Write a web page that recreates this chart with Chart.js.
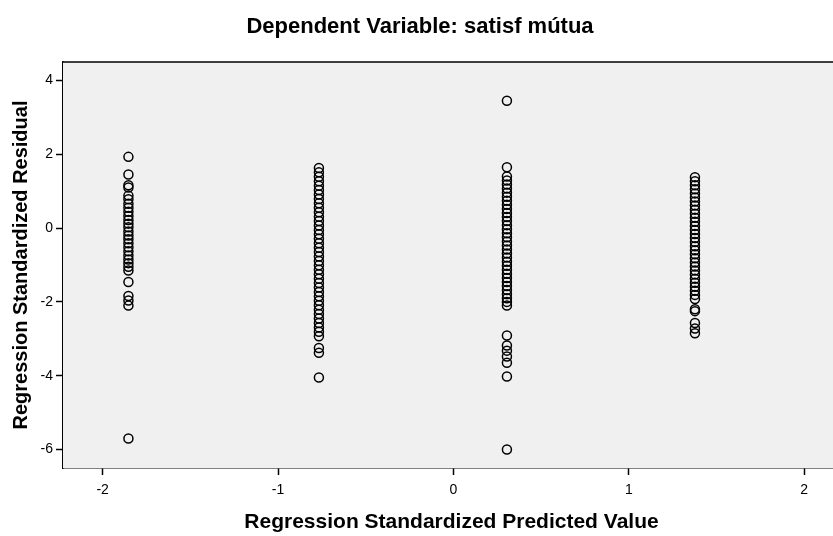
<!DOCTYPE html>
<html lang="en">
  <head>
    <meta charset="UTF-8" />
    <meta name="viewport" content="width=device-width, initial-scale=1.0" />
    <title>Dependent Variable: satisf mútua</title>
    <script src="https://cdn.jsdelivr.net/npm/chart.js@4.4.1/dist/chart.umd.min.js"></script>
    <style>
      html, body { margin: 0; padding: 0; background: #ffffff; overflow: hidden; }
      /* plot runs a little past the right edge of the window */
      #wrap { width: 844px; height: 536px; position: relative; }
    </style>
  </head>
  <body>
    <div id="wrap"><canvas id="myChart"></canvas></div>

    <script>
      // predicted value of each group (standardized)
      const predicted = [-1.853, -0.767, 0.305, 1.377];

      // standardized residuals for each predicted value group
      const residGroup1 = [1.93, 1.45, 1.16, 1.1, 0.88, 0.78, 0.66, 0.55, 0.44, 0.33, 0.22, 0.12, 0.02,
        -0.09, -0.2, -0.3, -0.41, -0.52, -0.63, -0.74, -0.85, -0.95, -1.05, -1.15, -1.46, -1.84, -1.96, -2.1, -5.7];
      const residGroup2 = [1.63, 1.51, 1.39, 1.27, 1.15, 1.03, 0.91, 0.79, 0.67, 0.55, 0.43, 0.31, 0.19, 0.07,
        -0.05, -0.17, -0.29, -0.41, -0.53, -0.65, -0.77, -0.89, -1.01, -1.13, -1.25, -1.37, -1.49, -1.61,
        -1.73, -1.85, -1.97, -2.09, -2.21, -2.33, -2.45, -2.57, -2.69, -2.81, -2.93, -3.25, -3.38, -4.05];
      const residGroup3 = [3.45, 1.65, 1.4, 1.29, 1.18, 1.07, 0.96, 0.85, 0.74, 0.63, 0.52, 0.41, 0.3, 0.19, 0.08,
        -0.03, -0.14, -0.25, -0.36, -0.47, -0.58, -0.69, -0.8, -0.91, -1.02, -1.13, -1.24, -1.35, -1.46,
        -1.57, -1.68, -1.79, -1.9, -2.0, -2.1, -2.91, -3.18, -3.32, -3.48, -3.65, -4.02, -6.0];
      const residGroup4 = [1.38, 1.27, 1.16, 1.05, 0.94, 0.83, 0.72, 0.61, 0.5, 0.39, 0.28, 0.17, 0.06,
        -0.05, -0.16, -0.27, -0.38, -0.49, -0.6, -0.71, -0.82, -0.93, -1.04, -1.15, -1.26, -1.37, -1.48,
        -1.59, -1.7, -1.81, -1.92, -2.2, -2.25, -2.57, -2.72, -2.85];

      const xTicks = [-2, -1, 0, 1, 2];
      const yTicks = [-6, -4, -2, 0, 2, 4];

      const groups = [residGroup1, residGroup2, residGroup3, residGroup4];
      const points = [];
      groups.forEach((resids, i) => {
        for (const r of resids) points.push({ x: predicted[i], y: r });
      });

      // grey plot area plus its top edge
      const plotFrame = {
        id: 'plotFrame',
        beforeDatasetsDraw(chart) {
          const { ctx, chartArea: a } = chart;
          ctx.save();
          ctx.fillStyle = '#f0f0f0';
          ctx.fillRect(a.left, a.top, a.right - a.left, a.bottom - a.top);
          ctx.strokeStyle = '#000';
          ctx.lineWidth = 1.5;
          ctx.beginPath();
          ctx.moveTo(a.left, a.top);
          ctx.lineTo(a.right, a.top);
          ctx.stroke();
          ctx.restore();
        }
      };

      // no extra room for edge labels
      function noPadding(s) {
        s.paddingLeft = 0;
        s.paddingRight = 0;
        s.paddingTop = 0;
        s.paddingBottom = 0;
      }

      window.addEventListener('load', plot);

      function plot() {
        const ctx = document.getElementById('myChart').getContext('2d');
        Chart.defaults.font.family = '"Liberation Sans", Arial, sans-serif';
        Chart.defaults.color = '#000';

        new Chart(ctx, {
          type: 'scatter',
          data: {
            datasets: [{
              data: points,
              pointStyle: 'circle',
              pointRadius: 4.5,
              pointHoverRadius: 4.5,
              borderWidth: 1.5,
              borderColor: '#000',
              backgroundColor: 'rgba(0,0,0,0)'
            }]
          },
          options: {
            responsive: true,
            maintainAspectRatio: false,
            animation: false,
            events: [],
            layout: { autoPadding: false, padding: { left: 0, top: 0, bottom: 0, right: 4 } },
            plugins: {
              legend: { display: false },
              tooltip: { enabled: false },
              title: {
                display: true,
                text: 'Dependent Variable: satisf mútua',
                font: { size: 22, weight: 'bold' },
                padding: { top: 13.8, bottom: 21.8 }
              }
            },
            scales: {
              x: {
                type: 'linear',
                min: -2.226,
                max: 2.204,
                afterBuildTicks: s => { s.ticks = xTicks.map(v => ({ value: v })); },
                afterFit: s => { s.height = 68; noPadding(s); },
                border: { display: true, color: '#000', width: 1.5 },
                grid: { drawOnChartArea: false, drawTicks: true, tickLength: 7, tickWidth: 1.5, tickColor: '#000' },
                ticks: { font: { size: 14 }, padding: 7, maxRotation: 0 },
                title: {
                  display: true,
                  text: 'Regression Standardized Predicted Value',
                  font: { size: 21, weight: 'bold' },
                  padding: { top: 0, bottom: 1.4 }
                }
              },
              y: {
                type: 'linear',
                min: -6.5,
                max: 4.5,
                afterBuildTicks: s => { s.ticks = yTicks.map(v => ({ value: v })); },
                afterFit: s => { s.width = 63; noPadding(s); },
                border: { display: true, color: '#000', width: 1.5 },
                grid: { drawOnChartArea: false, drawTicks: true, tickLength: 7, tickWidth: 1.5, tickColor: '#000' },
                ticks: { font: { size: 14 }, padding: 3 },
                title: {
                  display: true,
                  text: 'Regression Standardized Residual',
                  font: { size: 20, weight: 'bold' },
                  padding: { top: 9, bottom: 0 }
                }
              }
            }
          },
          plugins: [plotFrame]
        });
      }
    </script>
  </body>
</html>
